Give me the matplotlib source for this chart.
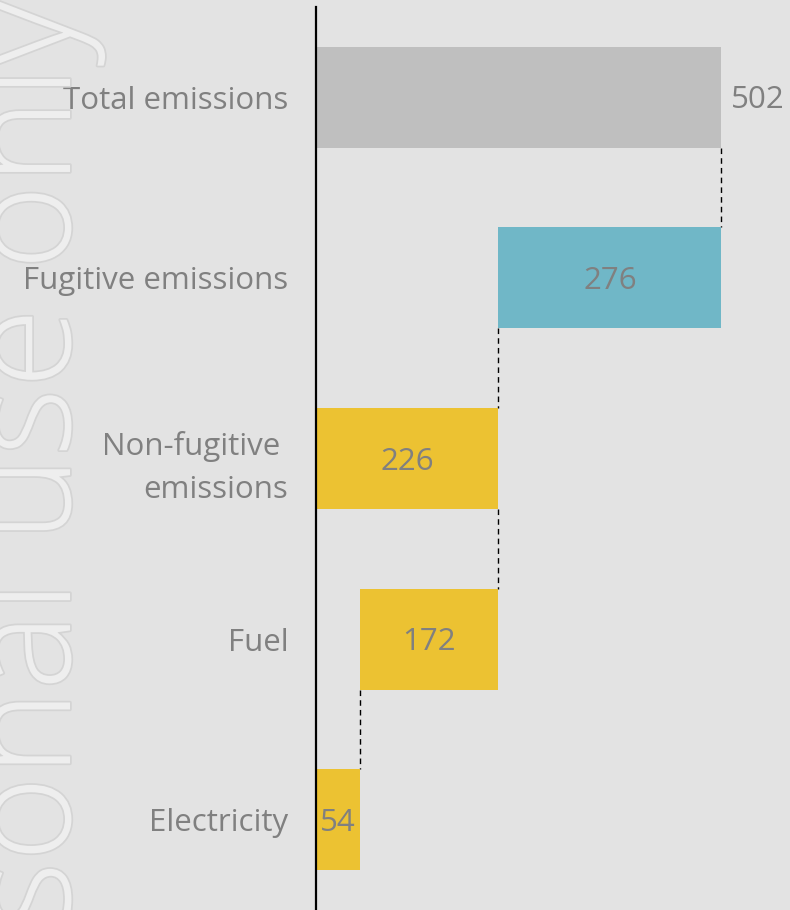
import matplotlib
matplotlib.use('Agg')
import matplotlib.pyplot as plt
import matplotlib.patheffects as pe
from matplotlib.transforms import offset_copy

# waterfall data
categories = ['Total emissions', 'Fugitive emissions', 'Non-fugitive \nemissions', 'Fuel', 'Electricity']
values = [502, 276, 226, 172, 54]
starts = [0, 226, 0, 54, 0]
colors = ['#bfbfbf', '#70b7c7', '#ecc232', '#ecc232', '#ecc232']
label_inside = [False, True, True, True, True]

bg = '#e3e3e3'
txt = '#808080'
font = 'Open Sans'
fs = 22.5

fig = plt.figure(figsize=(7.9, 9.1), dpi=100, facecolor=bg)

# watermark
fig.text(70 / 790, 1.0 + 2 / 910, 'personal use only', rotation=90, rotation_mode='anchor',
         ha='right', va='baseline', fontsize=105, family=font, fontweight='light',
         color='#eeeeee', zorder=0,
         path_effects=[pe.withStroke(linewidth=2.5, foreground='#d4d4d4')])

ax = fig.add_axes([316 / 790, 0, 1 - 316 / 790, 903 / 910])
ax.set_facecolor('none')

ypos = list(range(len(categories)))
h = 0.56
ax.barh(ypos, values, left=starts, height=h, color=colors, zorder=2)

# dashed connectors: at the edge shared by two neighbouring bars
for i in range(len(values) - 1):
    a = {starts[i], starts[i] + values[i]}
    b = {starts[i + 1], starts[i + 1] + values[i + 1]}
    xc = max(a & b)
    ax.vlines(xc, ypos[i] + h / 2, ypos[i + 1] - h / 2, colors='black',
              linestyles=(0, (4, 3)), linewidth=1, zorder=1)

tr = offset_copy(ax.transData, fig=fig, x=0, y=-3, units='dots')
for i, v in enumerate(values):
    if label_inside[i]:
        ax.text(starts[i] + v / 2, ypos[i], str(v), ha='center', va='center',
                fontsize=fs, color=txt, family=font, transform=tr)
    else:
        ax.text(starts[i] + v + 12, ypos[i], str(v), ha='left', va='center',
                fontsize=fs, color=txt, family=font, transform=tr)

ax.set_xlim(0, 587)
ax.set_ylim(4.5, -0.5)
ax.set_yticks(ypos)
ax.set_yticklabels(categories, fontsize=fs, color=txt, family=font, linespacing=1.55)
ax.tick_params(axis='y', length=0, pad=20)
ax.set_xticks([])
for s in ['top', 'right', 'bottom']:
    ax.spines[s].set_visible(False)
ax.spines['left'].set_color('black')
ax.spines['left'].set_linewidth(1.6)

plt.savefig('out.png', dpi=100, facecolor=bg)
plt.close()
